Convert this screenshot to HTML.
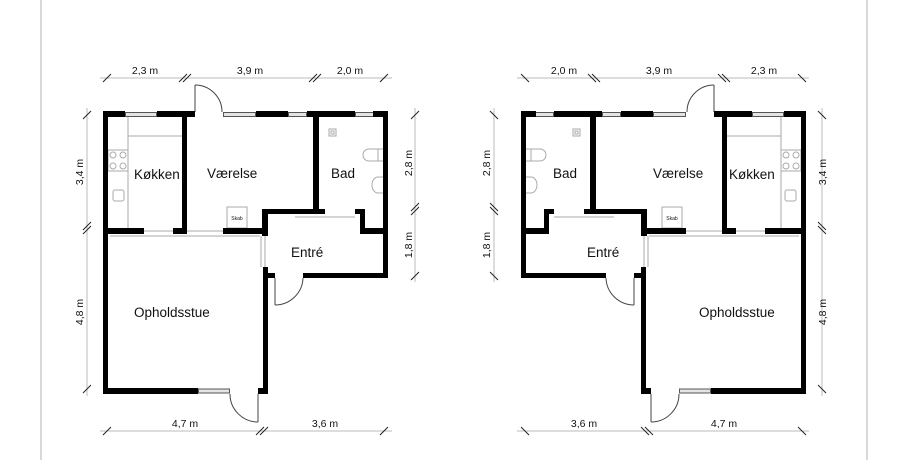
<!DOCTYPE html>
<html><head><meta charset="utf-8"><style>
html,body{margin:0;padding:0;background:#fff;width:905px;height:460px;overflow:hidden}
text{font-family:"Liberation Sans",sans-serif;fill:#111}
</style></head><body>
<svg width="905" height="460" viewBox="0 0 905 460" xmlns="http://www.w3.org/2000/svg">
<line x1="41" y1="0" x2="41" y2="460" stroke="#ccc" stroke-width="1.5"/>
<line x1="867" y1="0" x2="867" y2="460" stroke="#ccc" stroke-width="1.5"/>
<defs>
<g id="plan">
 <g stroke="#bbb" stroke-width="1" fill="none">
  <line x1="100" y1="78" x2="392" y2="78"/>
  <line x1="100" y1="431" x2="392" y2="431"/>
  <line x1="87" y1="108" x2="87" y2="396"/>
  <line x1="415" y1="108" x2="415" y2="282"/>
 </g>
 <g stroke="#222" stroke-width="1">
  <line x1="103" y1="82" x2="111" y2="74"/>
  <line x1="179" y1="82" x2="187" y2="74"/><line x1="183" y1="82" x2="191" y2="74"/>
  <line x1="309" y1="82" x2="317" y2="74"/><line x1="313" y1="82" x2="321" y2="74"/>
  <line x1="380" y1="82" x2="388" y2="74"/>
  <line x1="103" y1="435" x2="111" y2="427"/>
  <line x1="256" y1="435" x2="264" y2="427"/><line x1="260" y1="435" x2="268" y2="427"/>
  <line x1="380" y1="435" x2="388" y2="427"/>
  <line x1="83" y1="119" x2="91" y2="111"/>
  <line x1="83" y1="230" x2="91" y2="222"/><line x1="83" y1="234" x2="91" y2="226"/>
  <line x1="83" y1="393" x2="91" y2="385"/>
  <line x1="411" y1="119" x2="419" y2="111"/>
  <line x1="411" y1="211" x2="419" y2="203"/><line x1="411" y1="215" x2="419" y2="207"/>
  <line x1="411" y1="280" x2="419" y2="272"/>
 </g>
 <g stroke="#aaa" stroke-width="1" fill="none">
  <line x1="128" y1="117" x2="128" y2="228"/>
  <line x1="128" y1="136" x2="182" y2="136"/>
  <rect x="108" y="150" width="20" height="21"/>
  <circle cx="113" cy="155" r="3"/><circle cx="123" cy="155" r="3"/>
  <circle cx="113" cy="166" r="3"/><circle cx="123" cy="166" r="3"/>
  <rect x="113" y="190" width="11" height="11" rx="2"/>
  <line x1="144" y1="231" x2="173" y2="231"/>
  <line x1="187" y1="231" x2="223" y2="231"/>
  <line x1="110" y1="236" x2="260" y2="236"/>
  <line x1="295" y1="217" x2="355" y2="217"/>
  <line x1="265" y1="236" x2="265" y2="267"/>
  <line x1="261" y1="236" x2="261" y2="267"/>
  <rect x="227" y="207" width="20" height="21"/>
  <rect x="329" y="129" width="7" height="7"/>
  <rect x="331" y="131" width="3" height="3"/>
  <path d="M383 149 H369 A6 6 0 0 0 369 161 H383"/>
  <line x1="378" y1="149" x2="378" y2="161"/>
  <path d="M383 177 H378 A6 8 0 0 0 378 193 H383"/>
 </g>
 <g stroke="#444" stroke-width="1" fill="none">
  <line x1="195" y1="112" x2="195" y2="85"/>
  <path d="M195 85 A27 27 0 0 1 222 112"/>
  <line x1="275" y1="278" x2="275" y2="305"/>
  <path d="M275 305 A28 28 0 0 0 303 278"/>
  <line x1="258" y1="394" x2="258" y2="422"/>
  <path d="M230 394 A28 28 0 0 0 258 422"/>
 </g>
 <g fill="#e4e4e4" stroke="#555" stroke-width="1">
  <rect x="125.5" y="112.5" width="31" height="4"/>
  <rect x="223.5" y="112.5" width="32" height="4"/>
  <rect x="288.5" y="112.5" width="18" height="4"/>
  <rect x="355.5" y="112.5" width="18" height="4"/>
  <rect x="264" y="312.5" width="3.5" height="18"/>
  <rect x="198.5" y="389" width="31" height="4"/>
 </g>
 <g fill="#000">
  <rect x="103" y="111" width="22" height="6"/>
  <rect x="157" y="111" width="38" height="6"/>
  <rect x="256" y="111" width="32" height="6"/>
  <rect x="307" y="111" width="48" height="6"/>
  <rect x="373" y="111" width="15" height="6"/>
  <rect x="103" y="111" width="5" height="283"/>
  <rect x="383" y="111" width="5" height="167"/>
  <rect x="182" y="111" width="5" height="123"/>
  <rect x="313" y="111" width="6" height="103"/>
  <rect x="103" y="228" width="41" height="6"/>
  <rect x="173" y="228" width="14" height="6"/>
  <rect x="223" y="228" width="45" height="6"/>
  <rect x="262" y="209" width="63" height="5"/>
  <rect x="262" y="209" width="6" height="27"/>
  <rect x="355" y="209" width="10" height="5"/>
  <rect x="360" y="209" width="5" height="25"/>
  <rect x="360" y="228" width="28" height="6"/>
  <rect x="303" y="273" width="85" height="5"/>
  <rect x="263" y="267" width="5" height="127"/>
  <rect x="263" y="273" width="12" height="5"/>
  <rect x="103" y="388" width="95" height="6"/>
  <rect x="258" y="388" width="10" height="6"/>
 </g>
</g>
</defs>
<use href="#plan"/>
<use href="#plan" transform="translate(909,0) scale(-1,1)"/>
<g font-size="10.5" text-anchor="middle">
 <text x="145" y="74">2,3 m</text><text x="250" y="74">3,9 m</text><text x="350" y="74">2,0 m</text>
 <text x="185" y="427">4,7 m</text><text x="325" y="427">3,6 m</text>
 <text transform="translate(83,172) rotate(-90)">3,4 m</text>
 <text transform="translate(83,312) rotate(-90)">4,8 m</text>
 <text transform="translate(412,163) rotate(-90)">2,8 m</text>
 <text transform="translate(412,245) rotate(-90)">1,8 m</text>
 <text x="564" y="74">2,0 m</text><text x="659" y="74">3,9 m</text><text x="764" y="74">2,3 m</text>
 <text x="584" y="427">3,6 m</text><text x="724" y="427">4,7 m</text>
 <text transform="translate(490,163) rotate(-90)">2,8 m</text>
 <text transform="translate(490,245) rotate(-90)">1,8 m</text>
 <text transform="translate(826,172) rotate(-90)">3,4 m</text>
 <text transform="translate(826,312) rotate(-90)">4,8 m</text>
</g>
<g font-size="13.5">
 <text x="134" y="179">Køkken</text>
 <text x="207" y="178">Værelse</text>
 <text x="331" y="178">Bad</text>
 <text x="291" y="257">Entré</text>
 <text x="134" y="317">Opholdsstue</text>
 <text x="729" y="179">Køkken</text>
 <text x="653" y="178">Værelse</text>
 <text x="553" y="178">Bad</text>
 <text x="587" y="257">Entré</text>
 <text x="699" y="317">Opholdsstue</text>
</g>
<g font-size="5" text-anchor="middle">
 <text x="237" y="220">Skab</text>
 <text x="672" y="220">Skab</text>
</g>
</svg>
</body></html>
